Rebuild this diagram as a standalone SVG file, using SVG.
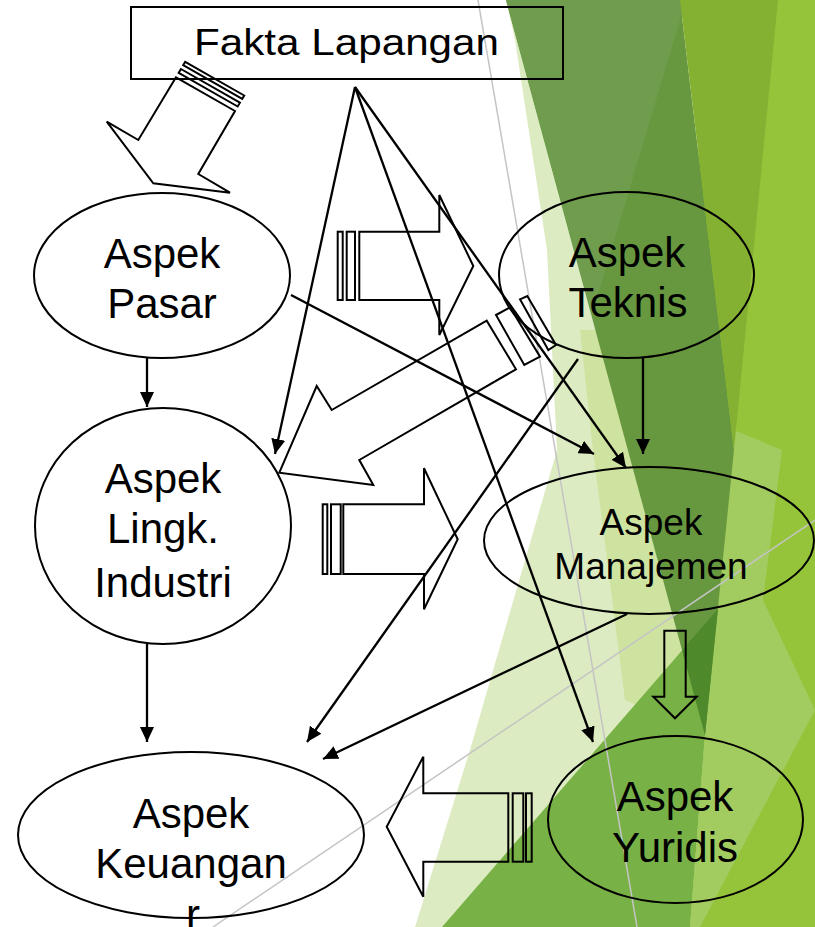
<svg xmlns="http://www.w3.org/2000/svg" width="815" height="927" viewBox="0 0 815 927">
<defs>
<style>
.lbl{font-family:"Liberation Sans",Arial,sans-serif;font-size:42px;text-anchor:middle;fill:#000}
.shape{fill:none;stroke:#000;stroke-width:2}
.blk{fill:none;stroke:#000;stroke-width:2;stroke-linejoin:miter}
.conn{stroke:#000;stroke-width:2.3;fill:none;marker-end:url(#ah)}
.gl{stroke:#c4c4c4;stroke-width:1.5;fill:none}
</style>
<marker id="ah" viewBox="0 0 15 14" refX="15" refY="7" markerWidth="15" markerHeight="14" markerUnits="userSpaceOnUse" orient="auto">
<path d="M0,0 L15,7 L0,14 z" fill="#000"/>
</marker>
</defs>
<rect width="815" height="927" fill="#fff"/>
<g id="background">
<polygon points="700,0 815,0 815,927 690,927" fill="#95c43b"/>
<polygon points="506,0 515,40 547,250 557,450 470,750 415,927 690,927 705,735" fill="#dcebc1"/>
<polygon points="580,330 593,450 625,700 705,735 640,330" fill="#cfe3a0"/>
<polygon points="442,927 718,609 705,735 690,927" fill="#78b146"/>
<polygon points="734,430 782,450 763,600 815,710 700,927 690,927 705,735" fill="#a2cc5f"/>
<polygon points="506,0 680,0 734,450 705,735" fill="#67983f"/>
<polygon points="506,0 686,0 592,315" fill="#709c4d"/>
<polygon points="682,650 718,609 705,735" fill="#4e8a2b"/>
<polygon points="680,0 778,0 734,450" fill="#85b132"/>
<line class="gl" x1="478" y1="0" x2="637" y2="927"/>
<line class="gl" x1="213" y1="927" x2="815" y2="520"/>
</g>
<g id="node-fakta">
<rect class="shape" x="131" y="7" width="432" height="72"/>
<text class="lbl" x="194" y="55" style="font-size:37px;text-anchor:start" textLength="305" lengthAdjust="spacingAndGlyphs">Fakta Lapangan</text>
</g>
<g id="node-pasar">
<ellipse class="shape" cx="162" cy="275.5" rx="128" ry="82.5"/>
<text class="lbl" x="162" y="268">Aspek</text>
<text class="lbl" x="162" y="318">Pasar</text>
</g>
<g id="node-lingk">
<ellipse class="shape" cx="163" cy="526" rx="128" ry="118"/>
<text class="lbl" x="163" y="493">Aspek</text>
<text class="lbl" x="163" y="543">Lingk.</text>
<text class="lbl" x="163" y="597">Industri</text>
</g>
<g id="node-keuangan">
<ellipse class="shape" cx="191" cy="835" rx="173" ry="83"/>
<text class="lbl" x="191" y="828">Aspek</text>
<text class="lbl" x="191" y="878">Keuangan</text>
<text class="lbl" x="193" y="929">r</text>
</g>
<g id="node-teknis">
<ellipse class="shape" cx="626.5" cy="275" rx="127.5" ry="83"/>
<text class="lbl" x="627" y="267">Aspek</text>
<text class="lbl" x="628" y="317">Teknis</text>
</g>
<g id="node-manajemen">
<ellipse class="shape" cx="649" cy="540.5" rx="165" ry="73.5"/>
<text class="lbl" x="651" y="535" style="font-size:37px">Aspek</text>
<text class="lbl" x="651" y="579" style="font-size:37px">Manajemen</text>
</g>
<g id="node-yuridis">
<ellipse class="shape" cx="675.5" cy="819.5" rx="127.5" ry="83.5"/>
<text class="lbl" x="675" y="811">Aspek</text>
<text class="lbl" x="675" y="862">Yuridis</text>
</g>
<g id="connectors">
<g id="block-arrows">
<polygon class="blk" points="176,77.3 138.3,140 106.7,121.7 153.3,183.3 230,192.7 198.3,174 235,111"/>
<polygon class="blk" points="178.7,72.8 237.7,106.5 239.9,102.7 180.9,69"/>
<polygon class="blk" points="183.2,65.2 242.2,98.9 244.2,95.5 185.2,61.8"/>
<polygon class="blk" points="359.3,231.7 439.3,231.7 439.3,195 473.3,266 439.3,335 439.3,300 359.3,300"/>
<rect class="blk" x="346.7" y="231.7" width="8.3" height="68.3"/>
<rect class="blk" x="337.7" y="231.7" width="5" height="68.3"/>
<polygon class="blk" points="343.3,504.3 424,504.3 424,468.3 457.7,539.3 424,609.3 424,574 343.3,574"/>
<rect class="blk" x="331" y="504.3" width="9.7" height="69.7"/>
<rect class="blk" x="322.7" y="504.3" width="4.6" height="69.7"/>
<polygon class="blk" points="508.3,793.3 423.3,793.3 423.3,756.7 386.7,826.7 423.3,896.7 423.3,861.7 508.3,861.7"/>
<rect class="blk" x="512.7" y="793.3" width="10.6" height="68.4"/>
<rect class="blk" x="526" y="793.3" width="5.7" height="68.4"/>
<polygon class="blk" points="486.7,320.7 331.7,410 316.7,386 279.3,472.7 373.3,485 359.3,460 516,369.3"/>
<polygon class="blk" points="496,315 510,307.3 540,356.7 524.3,365"/>
<polygon class="blk" points="520,299.3 527.3,296 556,345 548.3,350"/>
<polygon class="blk" points="664.3,630.7 685.7,630.7 685.7,696.7 696.7,696.7 675,718.3 653.3,696.7 664.3,696.7"/>
</g>
<line class="conn" x1="147" y1="358" x2="147" y2="407"/>
<line class="conn" x1="147" y1="644" x2="147" y2="742"/>
<line class="conn" x1="355" y1="87" x2="275" y2="454"/>
<line class="conn" x1="355" y1="87" x2="626" y2="468"/>
<line class="conn" x1="355" y1="87" x2="593" y2="742"/>
<line class="conn" x1="291" y1="295" x2="594" y2="454"/>
<line class="conn" x1="643" y1="358" x2="643" y2="454"/>
<line class="conn" x1="578" y1="359" x2="307" y2="742"/>
<line class="conn" x1="627" y1="614" x2="323" y2="759"/>
</g>
</svg>
